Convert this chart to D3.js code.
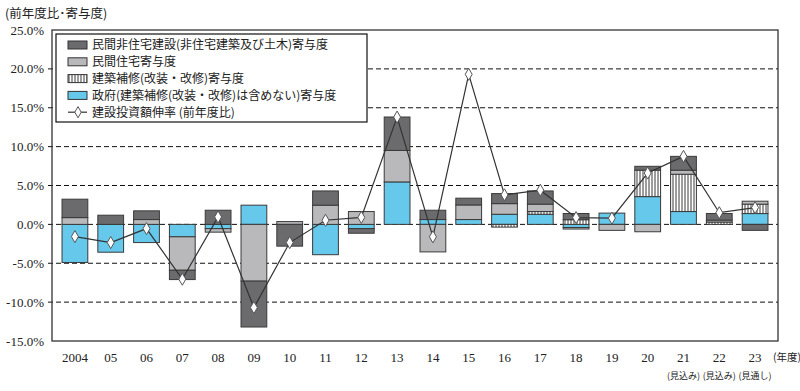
<!DOCTYPE html>
<html>
<head>
<meta charset="utf-8">
<script src="https://cdn.jsdelivr.net/npm/d3@7"></script>
<style>
  body { margin: 0; background: #fff; }
  svg { display: block; }
</style>
</head>
<body>
<div id="chart"></div>
<script>
// 年度ラベル
const years = ["2004", "05", "06", "07", "08", "09", "10", "11", "12", "13",
  "14", "15", "16", "17", "18", "19", "20", "21", "22", "23"];
const subLabels = ["", "", "", "", "", "", "", "", "", "", "", "", "", "", "", "", "",
  "(見込み)", "(見込み)", "(見通し)"];

// 寄与度 (%)
const nonResidential = [2.37, 1.18, 1.12, -1.2, 1.82, -5.9, -2.8, 1.83, -0.6, 4.3,
  1.2, 0.87, 1.29, 1.7, 0.8, 0, 0.5, 1.78, 0.85, -0.77];
const residential = [0.87, 0, 0.62, -4.3, -0.45, -7.3, 0.36, 2.47, 1.65, 4.05,
  -3.54, 1.88, 1.37, 0.95, -0.2, -0.77, -0.95, 0.52, 0.25, 0.38];
const repair = [0, 0, 0, 0, 0, 0, 0, 0, 0, 0,
  0, 0, -0.35, 0.35, 0.6, 0, 3.4, 4.8, 0.3, 1.21];
const government = [-4.9, -3.58, -2.34, -1.6, -0.55, 2.47, 0, -3.9, -0.54, 5.46,
  0.62, 0.62, 1.3, 1.3, -0.4, 1.45, 3.57, 1.65, 0, 1.39];
// 建設投資額伸率 (前年度比)
const growthRate = [-1.57, -2.34, -0.54, -7.05, 0.96, -10.7, -2.34, 0.53, 0.9, 13.8,
  -1.6, 19.3, 3.8, 4.4, 0.87, 0.8, 6.6, 8.75, 1.5, 2.16];

const yTicks = [25, 20, 15, 10, 5, 0, -5, -10, -15];

const width = 800, height = 391;
const margin = { top: 30, right: 22, bottom: 50, left: 52 };

const svg = d3.select("#chart").append("svg")
  .attr("width", width)
  .attr("height", height);

const defs = svg.append("defs");
const pat = defs.append("pattern")
  .attr("id", "hatch")
  .attr("patternUnits", "userSpaceOnUse")
  .attr("width", 3)
  .attr("height", 6);
pat.append("rect").attr("width", 3).attr("height", 6).attr("fill", "#fff");
pat.append("line")
  .attr("x1", 1).attr("x2", 1).attr("y1", 0).attr("y2", 6)
  .attr("stroke", "#222").attr("stroke-width", 0.9);

const x = d3.scaleBand()
  .domain(years)
  .range([margin.left, width - margin.right])
  .padding(0.28);

const y = d3.scaleLinear()
  .domain([-15, 25])
  .range([height - margin.bottom, margin.top]);

const fills = {
  government: "#66c9ec",
  repair: "url(#hatch)",
  residential: "#b9b9bb",
  nonResidential: "#6b6b6d"
};

// gridlines
svg.append("g")
  .selectAll("line")
  .data(yTicks.filter(d => d > -15 && d < 25))
  .join("line")
  .attr("x1", margin.left - 4)
  .attr("x2", width - margin.right)
  .attr("y1", d => y(d))
  .attr("y2", d => y(d))
  .attr("stroke", "#111")
  .attr("stroke-width", 1)
  .attr("stroke-dasharray", "5,3");

// y labels
svg.append("g")
  .selectAll("text")
  .data(yTicks)
  .join("text")
  .attr("x", 44)
  .attr("y", d => y(d))
  .attr("dy", "0.35em")
  .attr("text-anchor", "end")
  .style("font-family", "'Liberation Serif', serif")
  .style("font-size", "13px")
  .style("fill", "#222")
  .text(d => d.toFixed(1) + "%");

// stacked bars
const rows = years.map((yr, i) => ({
  year: yr,
  government: government[i],
  repair: repair[i],
  residential: residential[i],
  nonResidential: nonResidential[i]
}));

const series = d3.stack()
  .keys(["government", "repair", "residential", "nonResidential"])
  .offset(d3.stackOffsetDiverging)(rows);

svg.append("g")
  .selectAll("g")
  .data(series)
  .join("g")
  .attr("fill", d => fills[d.key])
  .selectAll("rect")
  .data(d => d.filter(v => v[1] - v[0] !== 0))
  .join("rect")
  .attr("x", d => x(d.data.year))
  .attr("width", x.bandwidth())
  .attr("y", d => y(Math.max(d[0], d[1])))
  .attr("height", d => Math.abs(y(d[0]) - y(d[1])))
  .attr("stroke", "#3a3a3a")
  .attr("stroke-width", 1);

// frame
svg.append("rect")
  .attr("x", margin.left)
  .attr("y", margin.top)
  .attr("width", width - margin.left - margin.right)
  .attr("height", height - margin.top - margin.bottom)
  .attr("fill", "none")
  .attr("stroke", "#333")
  .attr("stroke-width", 1.3);

// growth line
const line = d3.line()
  .x((d, i) => x(years[i]) + x.bandwidth() / 2)
  .y(d => y(d));

svg.append("path")
  .datum(growthRate)
  .attr("d", line)
  .attr("fill", "none")
  .attr("stroke", "#333")
  .attr("stroke-width", 1.2);

svg.append("g")
  .selectAll("path")
  .data(growthRate)
  .join("path")
  .attr("d", d3.symbol(d3.symbolDiamond, 42))
  .attr("transform", (d, i) => `translate(${x(years[i]) + x.bandwidth() / 2},${y(d)})`)
  .attr("fill", "#fff")
  .attr("stroke", "#555")
  .attr("stroke-width", 1);

// x labels
const xl = svg.append("g")
  .style("font-family", "'Liberation Serif', serif")
  .style("fill", "#222");
xl.selectAll("text.yr")
  .data(years)
  .join("text")
  .attr("class", "yr")
  .attr("x", d => x(d) + x.bandwidth() / 2)
  .attr("y", 362)
  .attr("text-anchor", "middle")
  .style("font-size", "13px")
  .text(d => d);
xl.selectAll("text.sub")
  .data(subLabels)
  .join("text")
  .attr("class", "sub")
  .attr("x", (d, i) => x(years[i]) + x.bandwidth() / 2)
  .attr("y", 379)
  .attr("text-anchor", "middle")
  .style("font-family", "'Noto Sans CJK JP', sans-serif")
  .style("font-size", "9px")
  .text(d => d);
svg.append("text")
  .attr("x", 773)
  .attr("y", 361)
  .style("font-family", "'Noto Sans CJK JP', sans-serif")
  .style("font-size", "10.5px")
  .style("fill", "#222")
  .text("(年度)");

// title
svg.append("text")
  .attr("x", 5)
  .attr("y", 18)
  .style("font-family", "'Noto Sans CJK JP', sans-serif")
  .style("font-size", "12.5px")
  .style("fill", "#222")
  .text("(前年度比･寄与度)");

// legend
const legendItems = [
  { label: "民間非住宅建設(非住宅建築及び土木)寄与度", fill: fills.nonResidential },
  { label: "民間住宅寄与度", fill: fills.residential },
  { label: "建築補修(改装・改修)寄与度", fill: fills.repair },
  { label: "政府(建築補修(改装・改修)は含めない)寄与度", fill: fills.government },
  { label: "建設投資額伸率 (前年度比)", fill: null }
];

const lg = svg.append("g");
lg.append("rect")
  .attr("x", 56)
  .attr("y", 34)
  .attr("width", 311)
  .attr("height", 88)
  .attr("fill", "#fff")
  .attr("stroke", "#111")
  .attr("stroke-width", 1.2);

const li = lg.selectAll("g")
  .data(legendItems)
  .join("g")
  .attr("transform", (d, i) => `translate(68,${45 + i * 16.8})`);

li.filter(d => d.fill)
  .append("rect")
  .attr("x", 0)
  .attr("y", -4)
  .attr("width", 19)
  .attr("height", 8)
  .attr("fill", d => d.fill)
  .attr("stroke", "#333");

const lineItem = li.filter(d => !d.fill);
lineItem.append("line")
  .attr("x1", 0).attr("x2", 19)
  .attr("stroke", "#333").attr("stroke-width", 1.2);
lineItem.append("path")
  .attr("d", d3.symbol(d3.symbolDiamond, 36))
  .attr("transform", "translate(10,0)")
  .attr("fill", "#fff")
  .attr("stroke", "#555");

li.append("text")
  .attr("x", 24)
  .attr("dy", "0.36em")
  .style("font-family", "'Noto Sans CJK JP', sans-serif")
  .style("font-size", "12px")
  .style("fill", "#222")
  .text(d => d.label);
</script>
</body>
</html>
